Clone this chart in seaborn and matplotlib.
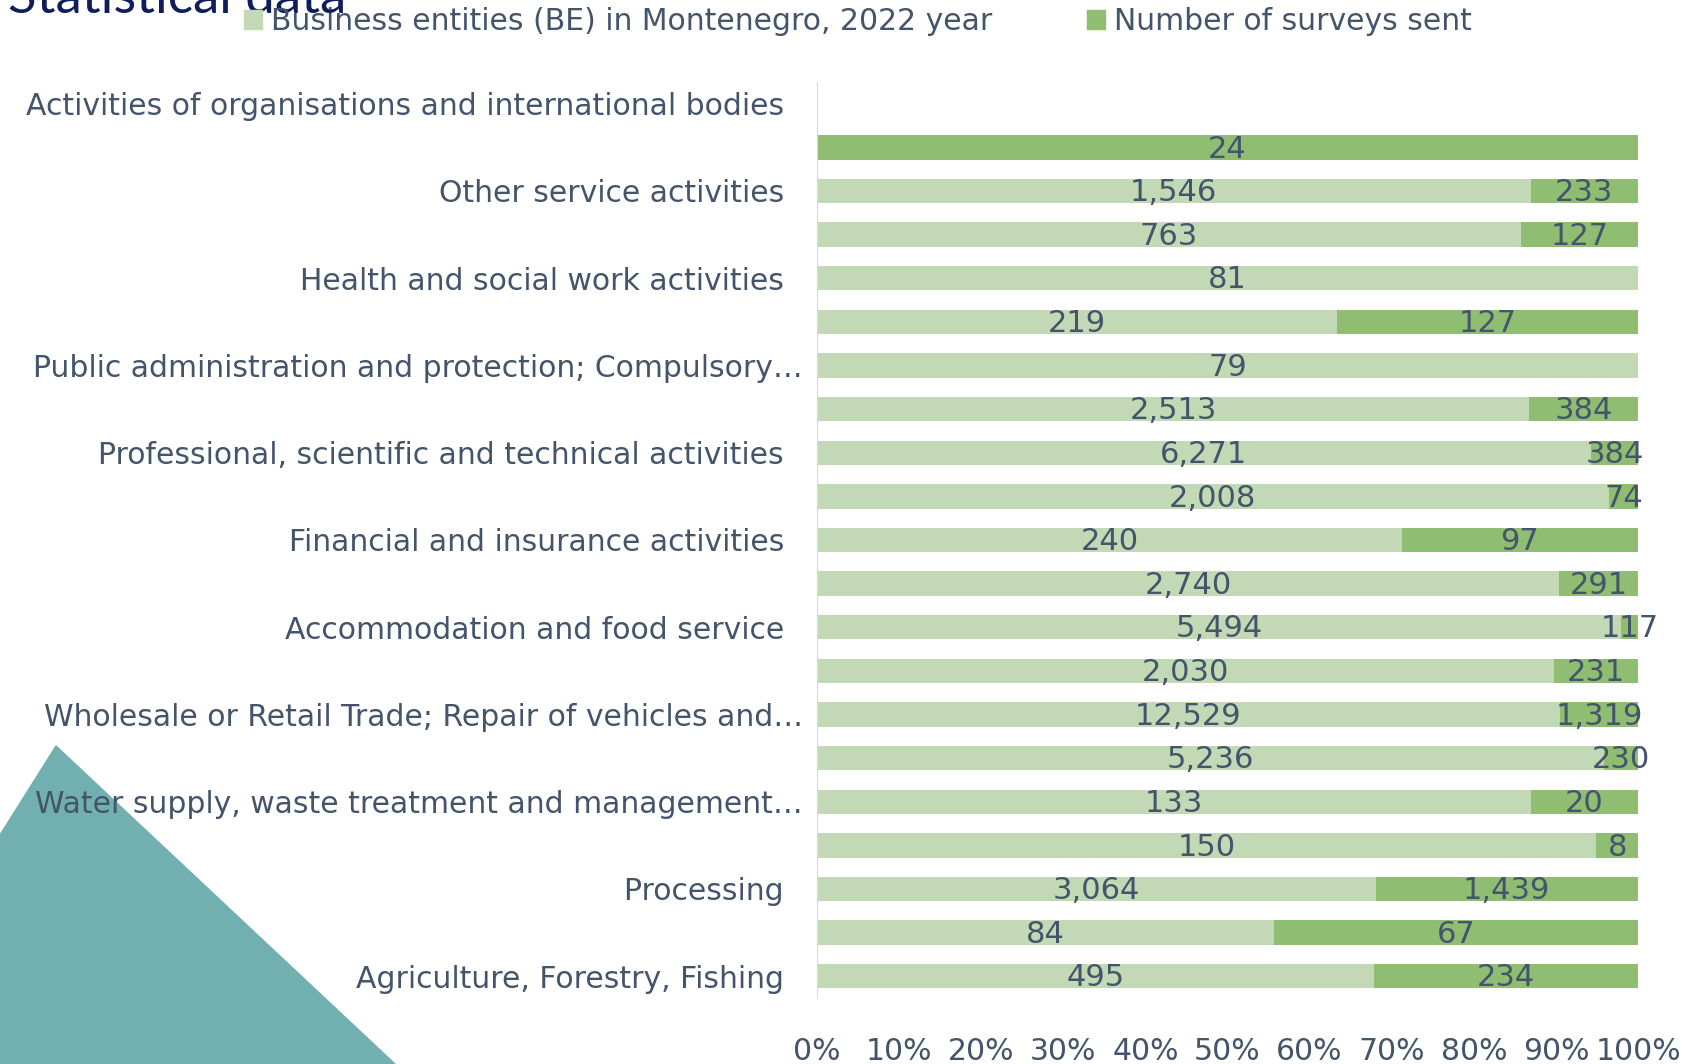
import numpy as np
import pandas as pd
import matplotlib.pyplot as plt
import seaborn as sns
from matplotlib.patches import Patch, Polygon
from matplotlib.ticker import PercentFormatter

# categories top to bottom (only every other one is labelled on the axis)
categories = [
    "Activities of organisations and international bodies",
    "Activities of households as employers",
    "Other service activities",
    "Arts, entertainment and recreation",
    "Health and social work activities",
    "Education",
    "Public administration and protection; Compulsory…",
    "Administrative and support service activities",
    "Professional, scientific and technical activities",
    "Real estate activities",
    "Financial and insurance activities",
    "Information and communication",
    "Accommodation and food service",
    "Transport and storage",
    "Wholesale or Retail Trade; Repair of vehicles and…",
    "Construction",
    "Water supply, waste treatment and management…",
    "Electricity, gas and steam supply",
    "Processing",
    "Mining and quarrying",
    "Agriculture, Forestry, Fishing",
]
business = [0, 0, 1546, 763, 81, 219, 79, 2513, 6271, 2008, 240, 2740, 5494,
            2030, 12529, 5236, 133, 150, 3064, 84, 495]
surveys = [0, 24, 233, 127, 0, 127, 0, 384, 384, 74, 97, 291, 117,
           231, 1319, 230, 20, 8, 1439, 67, 234]

light = "#c3d9b6"
dark = "#8fbd72"
txt = "#44546a"
fs = 21.5

df = pd.DataFrame({"cat": categories, "be": business, "sv": surveys})
df["total"] = df["be"] + df["sv"]
df["be_share"] = np.where(df["total"] > 0, df["be"] / df["total"].replace(0, 1), np.nan)
df["all"] = np.where(df["total"] > 0, 1.0, np.nan)

fig = plt.figure(figsize=(16.83, 10.64), dpi=100)
ax = fig.add_axes([0.4854, 0.062, 0.4879, 0.861])

sns.barplot(data=df, x="all", y="cat", color=dark, saturation=1, width=0.56, ax=ax)
sns.barplot(data=df, x="be_share", y="cat", color=light, saturation=1, width=0.56, ax=ax)

# value labels centred in each segment
for i, row in df.iterrows():
    if row["total"] == 0:
        continue
    if row["be"] > 0:
        ax.text(row["be_share"] / 2, i + 0.04, f"{row['be']:,}", ha="center", va="center",
                fontsize=fs + 0.5, color=txt)
    if row["sv"] > 0:
        ax.text(row["be_share"] + (1 - row["be_share"]) / 2, i + 0.04, f"{row['sv']:,}",
                ha="center", va="center", fontsize=fs + 0.5, color=txt)

ax.set_xlim(0, 1)
ax.set_xticks(np.arange(0, 1.01, 0.1))
ax.xaxis.set_major_formatter(PercentFormatter(1.0, decimals=0))
ax.set_yticks(range(len(categories)))
shown = []
for i, c in enumerate(categories):
    if i % 2:
        shown.append("")
    elif c.endswith("…"):
        shown.append(c)
    else:
        shown.append(c + "  ")
ax.set_yticklabels(shown)
ax.tick_params(axis="both", length=0, labelsize=fs, labelcolor=txt)
ax.tick_params(axis="x", pad=28)
ax.tick_params(axis="y", pad=10)
ax.set_xlabel("")
ax.set_ylabel("")
for s in ["top", "right", "bottom"]:
    ax.spines[s].set_visible(False)
ax.spines["left"].set_color("#d9d9d9")
ax.grid(False)

# slide decoration: teal triangle and cut-off heading
W, H = 1683, 1064
tri = Polygon([(56 / W, 1 - 746 / H), (395 / W, 0), (0, 0), (0, 1 - 835 / H)],
              closed=True, transform=fig.transFigure, color="#71afb1", zorder=-1)
fig.add_artist(tri)
fig.text(346 / W, 1 - 13 / H, "Statistical data", ha="right", va="baseline",
         fontsize=38, color="#0e1d5b", family=["Lato", "DejaVu Sans"])

handles = [Patch(color=light, label="Business entities (BE) in Montenegro, 2022 year"),
           Patch(color=dark, label="Number of surveys sent")]
fig.legend(handles=handles, loc="center", bbox_to_anchor=(858 / W, 1 - 22 / H), ncol=2,
           frameon=False, handlelength=0.6, handleheight=0.6, handletextpad=0.3,
           columnspacing=3.2, prop={"size": fs}, labelcolor=txt)

fig.savefig("out.png", dpi=100)
